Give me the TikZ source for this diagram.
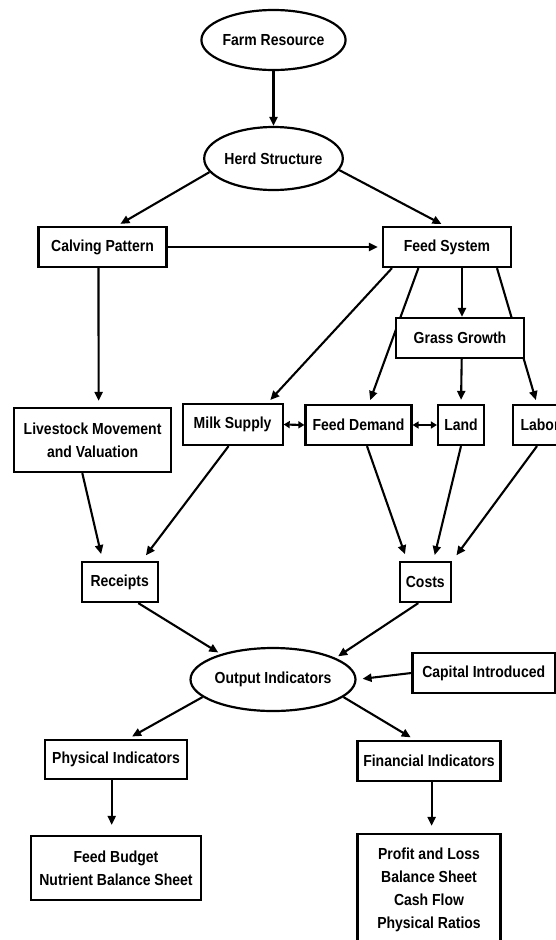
\documentclass[tikz,border=0pt]{standalone}
\usepackage{fontspec}
\setmainfont{Liberation Sans}[FakeStretch=0.875]
\usetikzlibrary{shapes.geometric,arrows.meta}
\pgfdeclarelayer{edges}
\pgfsetlayers{edges,main}
\begin{document}
\begin{tikzpicture}[x=1pt,y=-1pt,
  every node/.style={font=\bfseries\fontsize{16}{23}\selectfont, align=center, inner sep=0pt},
  box/.style={draw, rectangle, line width=2.2pt, fill=white},
  oval/.style={draw, ellipse, line width=2.2pt, fill=white},
  arr/.style={line width=2.1pt, -{Triangle[length=9pt,width=8pt]}, shorten >=4pt},
  dbl/.style={line width=2.1pt, {Triangle[length=6pt,width=7pt]}-{Triangle[length=6pt,width=7pt]}}]
\useasboundingbox (0,0) rectangle (556,940);
\clip (0,0) rectangle (556,940);
\node[oval, minimum width=134pt, minimum height=60pt] (farm) at (273.5,40) {Farm Resource};
\node[oval, minimum width=134pt, minimum height=63pt] (herd) at (273.5,158.5) {Herd Structure};
\node[box, minimum width=128pt, minimum height=40pt] (calv) at (102.5,247) {Calving Pattern};
\node[box, minimum width=128pt, minimum height=40pt] (feed) at (447,247) {Feed System};
\node[box, minimum width=128pt, minimum height=40pt] (grass) at (460,338) {Grass Growth};
\node[box, minimum width=100pt, minimum height=41pt] (milk) at (232.6,424.5) {Milk Supply};
\node[box, minimum width=106pt, minimum height=40pt] (fdem) at (358.5,425) {Feed Demand};
\node[box, minimum width=46pt, minimum height=40pt] (land) at (461,425) {Land};
\node[box, minimum width=54pt, minimum height=40pt] (labor) at (540,425) {Labor};
\node[box, minimum width=157pt, minimum height=64pt] (live) at (92.6,440) {Livestock Movement\\and Valuation};
\node[box, minimum width=76pt, minimum height=40pt] (rec) at (119.7,582) {Receipts};
\node[box, minimum width=51pt, minimum height=40pt] (costs) at (425.3,582) {Costs};
\node[oval, minimum width=133pt, minimum height=63pt] (out) at (273,679.5) {Output Indicators};
\node[box, minimum width=142.6pt, minimum height=40pt] (cap) at (483.7,673) {Capital Introduced};
\node[box, minimum width=142pt, minimum height=39pt] (phys) at (116,759.5) {Physical Indicators};
\node[box, minimum width=143pt, minimum height=40pt] (fin) at (429,761) {Financial Indicators};
\node[box, minimum width=170pt, minimum height=64pt] (fb) at (116,868) {Feed Budget\\Nutrient Balance Sheet};
\node[box, minimum width=143pt, minimum height=112pt, yshift=-1pt] (pl) at (429,889) {Profit and Loss\\Balance Sheet\\Cash Flow\\Physical Ratios};
\begin{pgfonlayer}{edges}
\draw[arr, shorten >=0pt] (farm) -- (herd);
\draw[arr] (herd.192) -- ([xshift=14.5pt]calv.north);
\draw[arr] (herd.350) -- ([xshift=-2pt]feed.north);
\draw[arr] (calv.east) -- (feed.west);
\draw[arr] ([xshift=-55pt]feed.south) -- ([xshift=35pt]milk.north);
\draw[arr] ([xshift=-28.6pt]feed.south) -- ([xshift=10.3pt]fdem.north);
\draw[arr, shorten >=0pt] ([xshift=15pt]feed.south) -- ([xshift=2pt]grass.north);
\draw[arr] ([xshift=50pt]feed.south) -- ([xshift=-3pt]labor.north);
\draw[arr] ([xshift=1.7pt]grass.south) -- (land.north);
\draw[dbl] (milk.east) -- (fdem.west);
\draw[dbl] (fdem.east) -- (land.west);
\draw[arr, shorten >=6pt] ([xshift=-4pt]calv.south) -- ([xshift=6pt]live.north);
\draw[arr, shorten >=7pt] ([xshift=-10.3pt]live.south) -- ([xshift=-17pt]rec.north);
\draw[arr, shorten >=7pt] ([xshift=-4pt]milk.south) -- ([xshift=22pt]rec.north);
\draw[arr, shorten >=7pt] ([xshift=8.5pt]fdem.south) -- ([xshift=-18pt]costs.north);
\draw[arr, shorten >=6pt] (land.south) -- ([xshift=8pt]costs.north);
\draw[arr, shorten >=7pt] ([xshift=-3pt]labor.south) -- ([xshift=27pt]costs.north);
\draw[arr, shorten >=3pt] ([xshift=18.6pt]rec.south) -- (out.154);
\draw[arr, shorten >=3pt] ([xshift=-7pt]costs.south) -- (out.19);
\draw[arr, shorten >=6pt] (cap.west) -- (out.east);
\draw[arr, shorten >=5pt] (out.194) -- ([xshift=11.7pt]phys.north);
\draw[arr, shorten >=5pt] (out.346) -- ([xshift=-14pt]fin.north);
\draw[arr, shorten >=10pt] ([xshift=-4.3pt]phys.south) -- ([xshift=-4.3pt]fb.north);
\draw[arr, shorten >=7pt] ([xshift=2.6pt]fin.south) -- ([xshift=2.6pt]pl.north);
\end{pgfonlayer}
\end{tikzpicture}
\end{document}
